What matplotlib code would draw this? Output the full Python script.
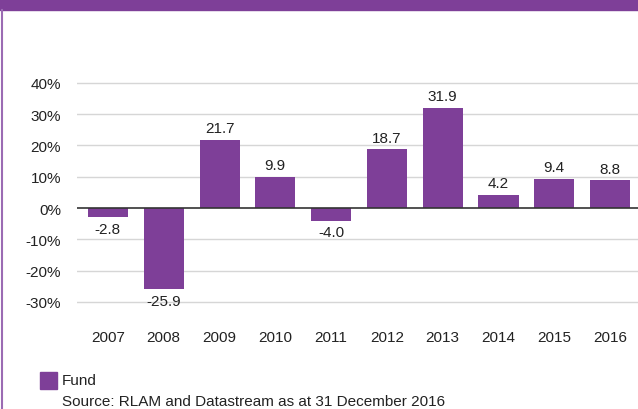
import matplotlib
matplotlib.use("Agg")
import matplotlib.pyplot as plt
from matplotlib.patches import Rectangle
from matplotlib.lines import Line2D

years = ["2007", "2008", "2009", "2010", "2011", "2012", "2013", "2014", "2015", "2016"]
fund = [-2.8, -25.9, 21.7, 9.9, -4.0, 18.7, 31.9, 4.2, 9.4, 8.8]
yticks = [-30, -20, -10, 0, 10, 20, 30, 40]
ytick_labels = ["-30%", "-20%", "-10%", "0%", "10%", "20%", "30%", "40%"]

purple = "#7E3F98"
plt.rcParams['font.family'] = ['Liberation Sans', 'DejaVu Sans']
fs = 11

fig = plt.figure(figsize=(6.38, 4.10), dpi=100)
top_px, bot_px = 68.1, 318.6
ax = fig.add_axes([77/638, 1-bot_px/410, (638-77)/638, (bot_px-top_px)/410])

x = list(range(len(years)))
ax.bar(x, fund, width=0.717, color=purple, zorder=3)
ax.set_xlim(-0.554, len(years)-0.5)
ax.set_ylim(-35, 45)
ax.set_yticks(yticks)
ax.set_yticklabels(ytick_labels)
ax.set_xticks(x)
ax.set_xticklabels(years)
for t in yticks:
    if t == 0:
        ax.axhline(0, color="#333333", lw=1.2, zorder=4)
    else:
        ax.axhline(t, color="#d6d6d6", lw=1.0, zorder=1)
for s in ax.spines.values():
    s.set_visible(False)
ax.tick_params(axis='both', length=0, labelsize=fs, colors="#222222")
ax.tick_params(axis='y', pad=11.5)
ax.tick_params(axis='x', pad=9)

for xi, v in zip(x, fund):
    if v >= 0:
        ax.annotate(f"{v:.1f}", (xi, v), xytext=(0, 3.5), textcoords="offset points",
                    ha="center", va="bottom", fontsize=fs, color="#222222")
    else:
        ax.annotate(f"{v:.1f}", (xi, v), xytext=(0, -3.5), textcoords="offset points",
                    ha="center", va="top", fontsize=fs, color="#222222")

# header band and left border
fig.patches.append(Rectangle((0, 1-11/410), 1, 11/410, transform=fig.transFigure,
                             color=purple, zorder=0))
fig.lines.append(Line2D([2.5/638, 2.5/638], [0, 1-11/410], transform=fig.transFigure,
                        color="#9b6bb3", lw=1.5))

# legend
fig.patches.append(Rectangle((40/638, 1-390/410), 17/638, 17/410, transform=fig.transFigure,
                             color=purple))
fig.text(62/638, 1-381.5/410, "Fund", fontsize=fs, va="center", ha="left", color="#222222")
fig.text(62/638, 1-402/410, "Source: RLAM and Datastream as at 31 December 2016",
         fontsize=fs, va="center", ha="left", color="#222222")

fig.savefig("out.png", dpi=100)
